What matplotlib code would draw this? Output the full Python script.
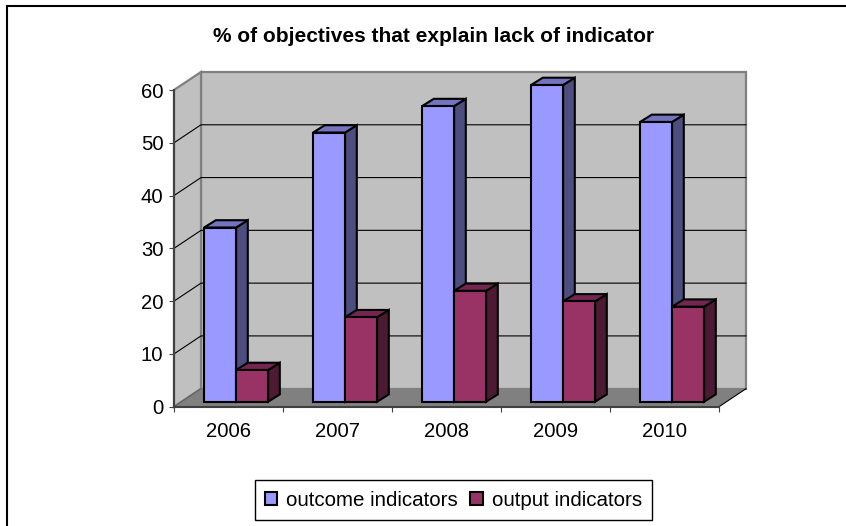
import matplotlib
matplotlib.use("Agg")
import matplotlib.pyplot as plt
from matplotlib.lines import Line2D
from matplotlib.patches import Patch, Polygon
from matplotlib.transforms import Affine2D

plt.rcParams['font.family'] = ['Liberation Sans', 'DejaVu Sans']

years = ['2006', '2007', '2008', '2009', '2010']
outcome = [33, 51, 56, 60, 53]
output = [6, 16, 21, 19, 18]
y_ticks = [0, 10, 20, 30, 40, 50, 60]

W, H = 846, 526
fig = plt.figure(figsize=(W / 100, H / 100), dpi=100, facecolor='white')
ax = fig.add_axes([174 / W, (H - 406.7) / H, 545 / W, 316.7 / H])
ax.set_xlim(0, 5)
ax.set_ylim(0, 60)
ax.patch.set_visible(False)

# depth of the box and of the bars, in pixels
DX, DY = 27, 18
BAR_DX, BAR_DY = 7.6, 5
SIDE_DX, SIDE_DY = 11.7, 7.3
BAR_W = 32 / 109


def pt(x, y, dx=0, dy=0):
    px, py = ax.transData.transform((x, y))
    return (px + dx, py + dy)


def face(points, color, z, edge='none', lw=0):
    ax.add_patch(Polygon(points, closed=True, facecolor=color, edgecolor=edge, linewidth=lw,
                         transform=None, clip_on=False, zorder=z, joinstyle='miter'))


# walls and floor
face([pt(0, 0, DX, DY), pt(0, 60, DX, DY), pt(5, 60, DX, DY), pt(5, 0, DX, DY)], '#C0C0C0', 1, '#808080', 1.6)
face([pt(0, 0), pt(0, 60), pt(0, 60, DX, DY), pt(0, 0, DX, DY)], '#C0C0C0', 1, '#808080', 1.6)
face([pt(0, 0), pt(5, 0), pt(5, 0, DX, DY), pt(0, 0, DX, DY)], '#808080', 2)

for v in y_ticks[1:-1]:
    p = [pt(0, v), pt(0, v, DX, DY), pt(5, v, DX, DY)]
    ax.add_line(Line2D(*zip(*p), color='black', lw=0.8, transform=None, clip_on=False, zorder=3))
corner = [pt(5, 0), pt(5, 0, DX, DY)]
ax.add_line(Line2D(*zip(*corner), color='black', lw=0.8, transform=None, clip_on=False, zorder=3))
corner = [pt(0, 0), pt(0, 0, DX, DY)]
ax.add_line(Line2D(*zip(*corner), color='#606060', lw=0.8, transform=None, clip_on=False, zorder=3))

bar_shift = ax.transData + Affine2D().translate(BAR_DX, BAR_DY)


def draw_bar(left, value, front, side, top, z):
    right = left + BAR_W
    d = (BAR_DX, BAR_DY)
    s = (BAR_DX + SIDE_DX, BAR_DY + SIDE_DY)
    face([pt(right, 0, *d), pt(right, value, *d), pt(right, value, *s), pt(right, 0, *s)], side, z, 'black', 1.5)
    face([pt(left, value, *d), pt(right, value, *d), pt(right, value, *s), pt(left, value, *s)], top, z, 'black', 1.5)
    ax.bar(left, value, BAR_W, align='edge', color=front, edgecolor='black', linewidth=1.5,
           transform=bar_shift, clip_on=False, zorder=z)


gap = (1 - 2 * BAR_W) / 2
for i in range(len(years)):
    # 3D bars are drawn left to right so the nearer box covers its neighbour
    draw_bar(i + gap, outcome[i], '#9999FF', '#4D4D80', '#7373BF', 4 + i * 2)
    draw_bar(i + gap + BAR_W, output[i], '#993366', '#4D1A33', '#732650', 5 + i * 2)

ax.set_xlim(0, 5)
ax.set_ylim(0, 60)

# axes
for name in ['top', 'right']:
    ax.spines[name].set_visible(False)
for name in ['left', 'bottom']:
    ax.spines[name].set_color('#404040')
    ax.spines[name].set_linewidth(1.5)
    ax.spines[name].set_zorder(30)
ax.set_yticks(y_ticks)
ax.set_xticks(range(6))
ax.set_xticklabels([])
ax.set_xticks([i + 0.5 for i in range(5)], minor=True)
ax.set_xticklabels(years, minor=True)
ax.tick_params(axis='x', which='minor', length=0, pad=11, labelsize=14.6)
ax.tick_params(axis='x', which='major', length=5 * 0.72, width=0.8, color='#404040')
ax.tick_params(axis='y', length=5 * 0.72, width=0.8, color='#404040', pad=4, labelsize=14.6)

fig.text((205 + 663) / 2 / W, 1 - 36 / H, '% of objectives that explain lack of indicator',
         ha='center', va='center', fontsize=15, fontweight='bold')

# outer frame, runs off the right and bottom edges
frame = Line2D([6.5 / W, 6.5 / W, 1], [0, 1 - 6 / H, 1 - 6 / H], color='black', lw=1.5,
               transform=fig.transFigure, solid_joinstyle='miter')
fig.add_artist(frame)

handles = [Patch(facecolor='#9999FF', edgecolor='black', linewidth=1.5, label='outcome indicators'),
           Patch(facecolor='#993366', edgecolor='black', linewidth=1.5, label='output indicators')]
leg = fig.legend(handles=handles, ncol=2, loc='center', bbox_to_anchor=(453.5 / W, 1 - 500 / H),
                 fontsize=14.8, frameon=True, fancybox=False, framealpha=1, edgecolor='black',
                 handlelength=0.6, handleheight=0.6, handletextpad=0.45, columnspacing=0.6,
                 borderpad=0.5, borderaxespad=0)
leg.get_frame().set_linewidth(1.0)

fig.savefig('out.png', dpi=100)
